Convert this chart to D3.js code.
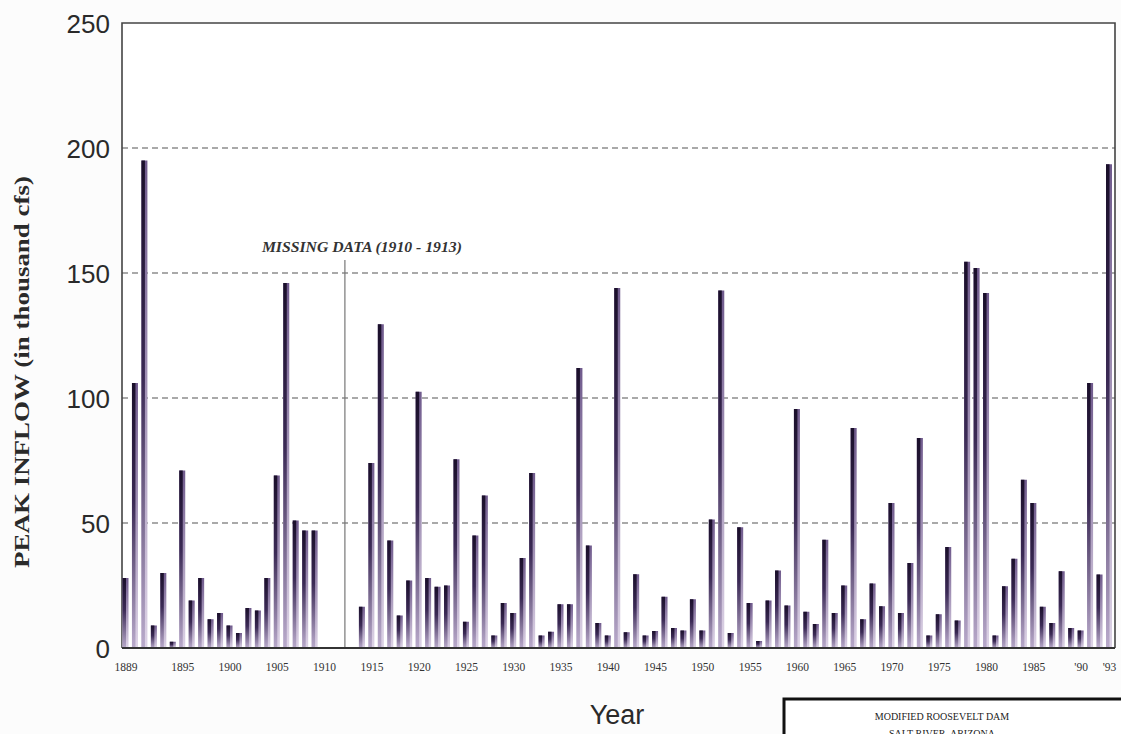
<!DOCTYPE html>
<html>
<head>
<meta charset="utf-8">
<script src="https://cdn.jsdelivr.net/npm/d3@7"></script>
<style>
  body { margin: 0; background: #fcfcfc; }
  svg { display: block; }
</style>
</head>
<body>
<div id="chart"></div>
<script>
var width = 1121;
var height = 734;
var margin = {top: 23, left: 122, right: 6, bottom: 86};

// peak inflow, thousand cfs, 1889..1993 (null = missing 1910-1913)
var years = d3.range(1889, 1994);
var inflow = [
  28, 106, 195, 9, 30, 2.5, 71, 19, 28, 11.5,          // 1889-1898
  14, 9, 6, 16, 15, 28, 69, 146, 51, 47,               // 1899-1908
  47, null, null, null, null, 16.5, 74, 129.5, 43, 13, // 1909-1918
  27, 102.5, 28, 24.5, 25, 75.5, 10.5, 45, 61, 5,      // 1919-1928
  18, 14, 36, 70, 5, 6.5, 17.5, 17.5, 112, 41,         // 1929-1938
  10, 5, 144, 6.3, 29.5, 5, 6.8, 20.5, 8, 7,           // 1939-1948
  19.5, 7, 51.4, 143, 6, 48.3, 18, 2.8, 19, 31,        // 1949-1958
  17, 95.6, 14.5, 9.6, 43.3, 14, 25, 88, 11.5, 25.8,   // 1959-1968
  16.7, 58, 14, 34, 84, 5, 13.5, 40.4, 11, 154.5,      // 1969-1978
  152, 142, 5, 24.7, 35.7, 67.3, 58, 16.5, 10, 30.7,   // 1979-1988
  8, 7, 106, 29.4, 193.5                               // 1989-1993
];
var yTicks = [0, 50, 100, 150, 200, 250];
var xTickYears = [1889, 1895, 1900, 1905, 1910, 1915, 1920, 1925, 1930, 1935, 1940,
                  1945, 1950, 1955, 1960, 1965, 1970, 1975, 1980, 1985, 1990, 1993];
var xTickLabels = ['1889', '1895', '1900', '1905', '1910', '1915', '1920', '1925', '1930', '1935', '1940',
                   '1945', '1950', '1955', '1960', '1965', '1970', '1975', '1980', '1985', "'90", "'93"];

var data = years.map(function(y, i) { return {year: y, value: inflow[i]}; });

var svg = d3.select("#chart").append("svg")
    .attr("width", width)
    .attr("height", height);

var plotRight = 1115;
var plotBottom = 648;

var x = d3.scaleLinear()
    .domain([1889, 1993])
    .range([125.5, 1109]);

var y = d3.scaleLinear()
    .domain([0, 250])
    .range([plotBottom, margin.top]);

var defs = svg.append("defs");
var grad = defs.append("linearGradient")
    .attr("id", "barGrad")
    .attr("x1", 0).attr("y1", 0).attr("x2", 0).attr("y2", 1);
grad.append("stop").attr("offset", "0%").attr("stop-color", "#1a0f2a");
grad.append("stop").attr("offset", "45%").attr("stop-color", "#3b2a55");
grad.append("stop").attr("offset", "100%").attr("stop-color", "#b9aacb");

var gradSide = defs.append("linearGradient")
    .attr("id", "barSide")
    .attr("x1", 0).attr("y1", 0).attr("x2", 0).attr("y2", 1);
gradSide.append("stop").attr("offset", "0%").attr("stop-color", "#6f5a8c");
gradSide.append("stop").attr("offset", "100%").attr("stop-color", "#ddd3e6");

// plot background
svg.append("rect")
    .attr("x", margin.left)
    .attr("y", margin.top)
    .attr("width", plotRight - margin.left)
    .attr("height", plotBottom - margin.top)
    .attr("fill", "#ffffff");

// dashed gridlines
svg.append("g")
    .selectAll("line")
    .data(yTicks.filter(function(d) { return d > 0 && d < 250; }))
    .enter().append("line")
    .attr("x1", margin.left)
    .attr("x2", plotRight)
    .attr("y1", function(d) { return y(d); })
    .attr("y2", function(d) { return y(d); })
    .attr("stroke", "#555")
    .attr("stroke-width", 1.2)
    .attr("stroke-dasharray", "6,4");

// frame
svg.append("path")
    .attr("d", "M" + margin.left + "," + plotBottom + "V" + margin.top + "H" + plotRight + "V" + plotBottom)
    .attr("fill", "none")
    .attr("stroke", "#444")
    .attr("stroke-width", 1.6);

// missing data marker
var missX = x(1912.2);
svg.append("line")
    .attr("x1", missX).attr("x2", missX)
    .attr("y1", 260).attr("y2", plotBottom)
    .attr("stroke", "#777")
    .attr("stroke-width", 1.2);
svg.append("text")
    .attr("x", missX - 83)
    .attr("y", 252)
    .attr("font-family", "Liberation Serif, serif")
    .attr("font-style", "italic")
    .attr("font-weight", "bold")
    .attr("font-size", 14)
    .attr("fill", "#333")
    .attr("textLength", 200)
    .attr("lengthAdjust", "spacingAndGlyphs")
    .text("MISSING DATA (1910 - 1913)");

// bars
var barW = 6;
var bars = svg.append("g")
    .selectAll("g")
    .data(data.filter(function(d) { return d.value != null; }))
    .enter().append("g");

bars.append("rect")
    .attr("x", function(d) { return x(d.year) - barW / 2; })
    .attr("y", function(d) { return y(d.value); })
    .attr("width", barW)
    .attr("height", function(d) { return plotBottom - y(d.value); })
    .attr("fill", "url(#barSide)");

bars.append("rect")
    .attr("x", function(d) { return x(d.year) - barW / 2; })
    .attr("y", function(d) { return y(d.value); })
    .attr("width", 3.5)
    .attr("height", function(d) { return plotBottom - y(d.value); })
    .attr("fill", "url(#barGrad)");

// bottom axis line
svg.append("line")
    .attr("x1", margin.left).attr("x2", plotRight)
    .attr("y1", plotBottom).attr("y2", plotBottom)
    .attr("stroke", "#333")
    .attr("stroke-width", 2);

// y axis labels
var yAxis = d3.axisLeft(y)
    .tickValues(yTicks)
    .tickSize(0)
    .tickPadding(12);
var gy = svg.append("g")
    .attr("transform", "translate(" + margin.left + ",0)")
    .call(yAxis);
gy.select(".domain").remove();
gy.selectAll("text")
    .attr("font-family", "Liberation Sans, Arial, sans-serif")
    .attr("font-size", 26)
    .attr("fill", "#2a2a2a")
    .attr("dy", "0.36em");

// x axis labels
var xAxis = d3.axisBottom(x)
    .tickValues(xTickYears)
    .tickFormat(function(d, i) { return xTickLabels[i]; })
    .tickSize(0)
    .tickPadding(15);
var gx = svg.append("g")
    .attr("transform", "translate(0," + plotBottom + ")")
    .call(xAxis);
gx.select(".domain").remove();
gx.selectAll("text")
    .attr("font-family", "Liberation Serif, serif")
    .attr("font-size", 11.5)
    .attr("fill", "#333");

// axis titles
svg.append("text")
    .attr("transform", "translate(29,372) rotate(-90)")
    .attr("text-anchor", "middle")
    .attr("font-family", "Liberation Serif, serif")
    .attr("font-weight", "bold")
    .attr("font-size", 22)
    .attr("fill", "#2a2a2a")
    .attr("textLength", 392)
    .attr("lengthAdjust", "spacingAndGlyphs")
    .text("PEAK INFLOW (in thousand cfs)");

svg.append("text")
    .attr("x", 617)
    .attr("y", 724)
    .attr("text-anchor", "middle")
    .attr("font-family", "Liberation Sans, Arial, sans-serif")
    .attr("font-size", 27)
    .attr("fill", "#2a2a2a")
    .text("Year");

// title box, bottom right
svg.append("rect")
    .attr("x", 784)
    .attr("y", 699)
    .attr("width", 360)
    .attr("height", 60)
    .attr("fill", "#fff")
    .attr("stroke", "#111")
    .attr("stroke-width", 3);
svg.append("text")
    .attr("x", 942)
    .attr("y", 720)
    .attr("text-anchor", "middle")
    .attr("font-family", "Liberation Serif, serif")
    .attr("font-size", 10)
    .attr("fill", "#222")
    .text("MODIFIED ROOSEVELT DAM");
svg.append("text")
    .attr("x", 942)
    .attr("y", 737)
    .attr("text-anchor", "middle")
    .attr("font-family", "Liberation Serif, serif")
    .attr("font-size", 10)
    .attr("fill", "#222")
    .text("SALT RIVER, ARIZONA");
</script>
</body>
</html>
